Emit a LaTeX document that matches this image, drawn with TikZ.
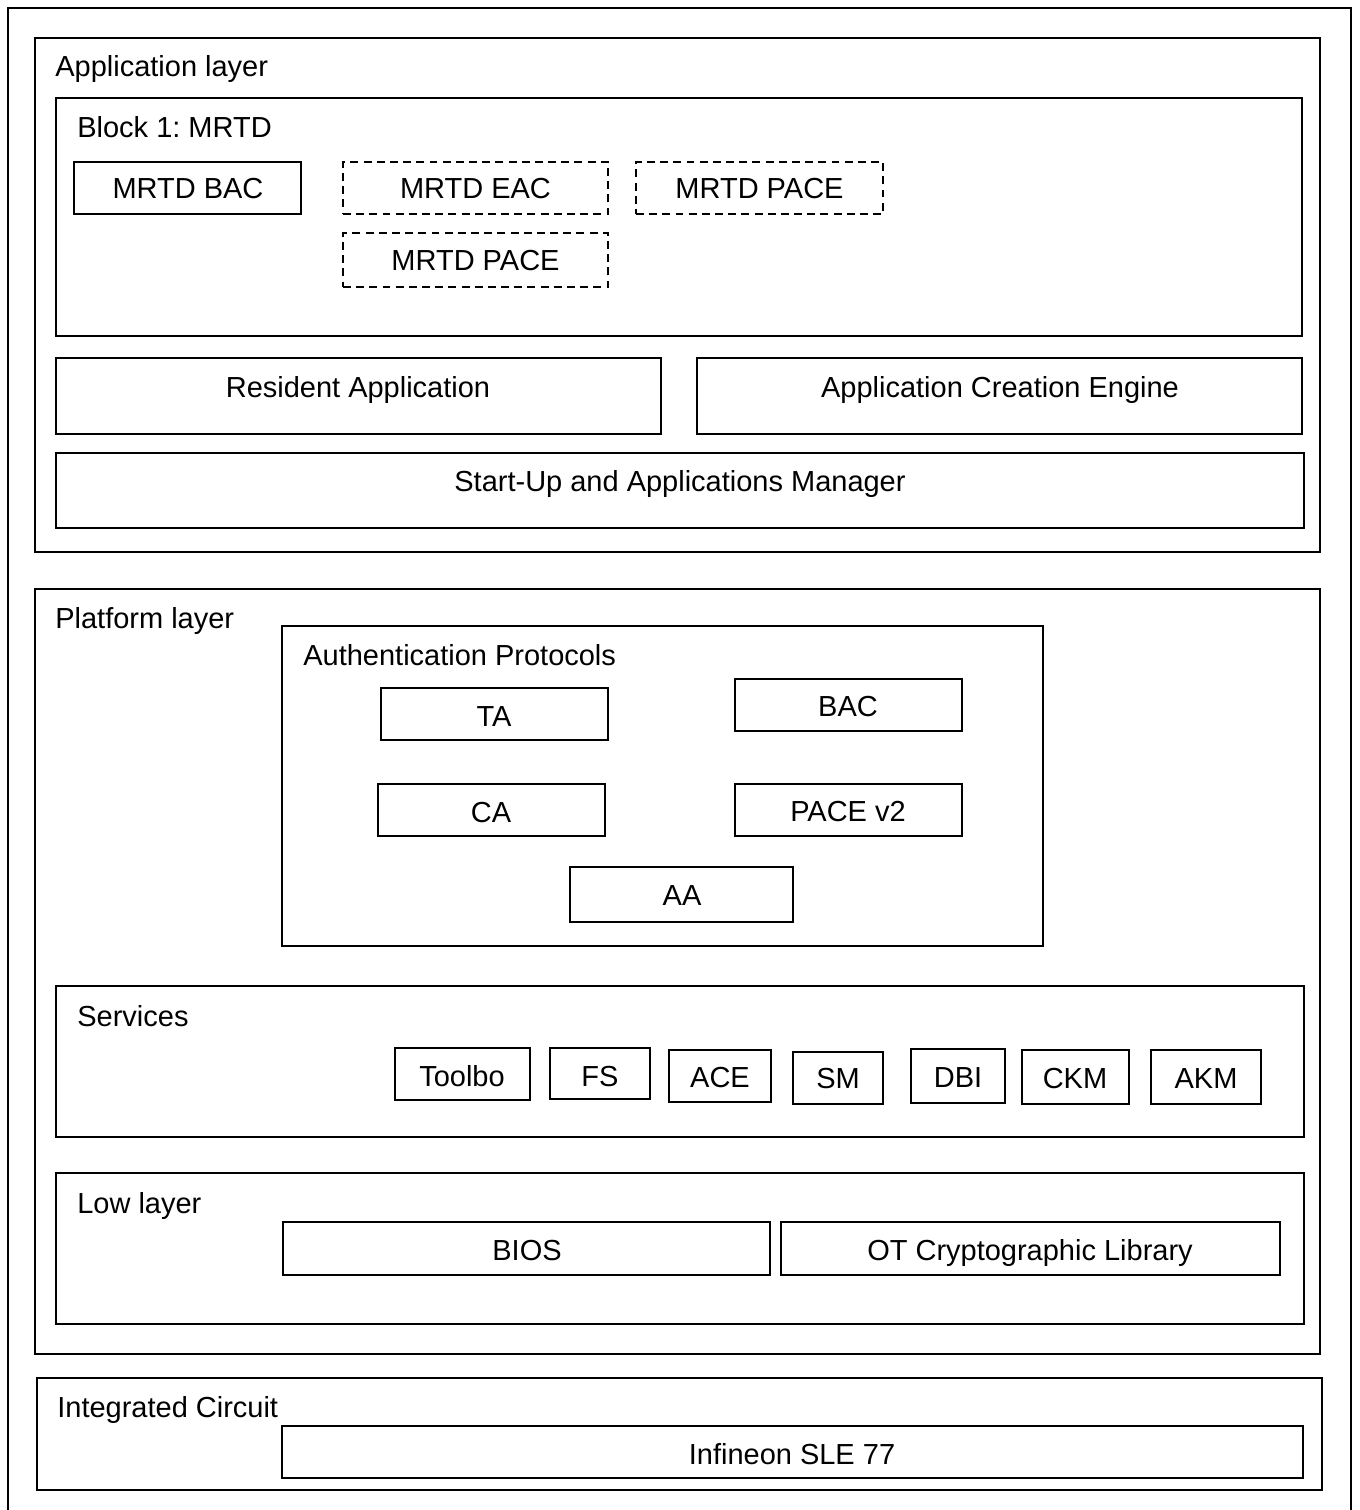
\documentclass[tikz,border=0pt]{standalone}
\usepackage{fontspec}
\setmainfont{Liberation Sans}
\usepackage{tikz}
\usetikzlibrary{fit}
\frenchspacing
\tikzset{%
  pixels/.style={x={(0.02cm,0cm)},y={(0cm,-0.02cm)}},
  frame/.style={draw, line width=1.1pt, inner sep=0pt},
  optframe/.style={frame, dash pattern=on 4.5pt off 3pt},
  caption/.style={anchor=base west, inner sep=0pt},
  boxtext/.style={anchor=base, inner sep=0pt}
}

\begin{document}
\begin{tikzpicture}[pixels, font=\fontsize{16.5}{19}\selectfont]
  \useasboundingbox (0,0) rectangle (1359,1510);
  \draw[line width=1.1pt] (8,1520) -- (8,8) -- (1351,8) -- (1351,1520);
  % layers and groups
  \foreach \n/\xa/\ya/\xb/\yb/\tx/\ty/\t in {
      applayer/35/38/1320/552/55/77/Application layer,
      block/56/98/1302/336/77/138/Block 1: MRTD,
      platform/35/589/1320/1354/55/628/Platform layer,
      auth/282/626/1043/946/303/665/Authentication Protocols,
      services/56/986/1304/1137/77/1026/Services,
      low/56/1173/1304/1324/77/1213/Low layer,
      ic/37/1378/1322/1490/57/1417/Integrated Circuit} {
    \node[frame, fit={(\xa,\ya) (\xb,\yb)}] (\n) {};
    \node[caption] (\n-cap) at (\tx,\ty) {\t};
  }
  % dashed applets
  \foreach \n/\xa/\ya/\xb/\yb/\t in {
      eac/343/162/608/214/MRTD EAC,
      pacea/636/162/883/214/MRTD PACE,
      paceb/343/233/608/287/MRTD PACE} {
    \node[optframe, fit={(\xa,\ya) (\xb,\yb)}] (\n) {};
    \node[boxtext] (\n-t) at ([yshift=-5.7pt]\n.center) {\t};
  }
  % solid components
  \foreach \n/\xa/\ya/\xb/\yb/\tx/\ty/\t in {
      bac/74/162/301/214/188/199/MRTD BAC,
      resident/56/358/661/434/358/397/Resident Application,
      ace/697/358/1302/434/1000/397/Application Creation Engine,
      sam/56/453/1304/528/680/491/Start-Up and Applications Manager,
      ta/381/688/608/740/494/726/TA,
      pbac/735/679/962/731/848/716/BAC,
      ca/378/784/605/836/491/822/CA,
      pace/735/784/962/836/848/821/PACE v2,
      aa/570/867/793/922/682/905/AA,
      toolbox/395/1048/530/1100/462/1086/Toolbo,
      fs/550/1048/650/1099/600/1086/FS,
      sace/669/1050/771/1102/720/1087/ACE,
      sm/793/1052/883/1104/838/1088/SM,
      dbi/911/1049/1005/1103/958/1087/DBI,
      ckm/1022/1050/1129/1104/1075/1088/CKM,
      akm/1151/1050/1261/1104/1206/1088/AKM,
      bios/283/1222/770/1275/527/1260/BIOS,
      otlib/781/1222/1280/1275/1030/1260/OT Cryptographic Library,
      sle/282/1426/1303/1478/792/1464/Infineon SLE 77} {
    \node[frame, fit={(\xa,\ya) (\xb,\yb)}] (\n) {};
    \node[boxtext] (\n-t) at (\tx,\ty) {\t};
  }
\end{tikzpicture}
\end{document}
